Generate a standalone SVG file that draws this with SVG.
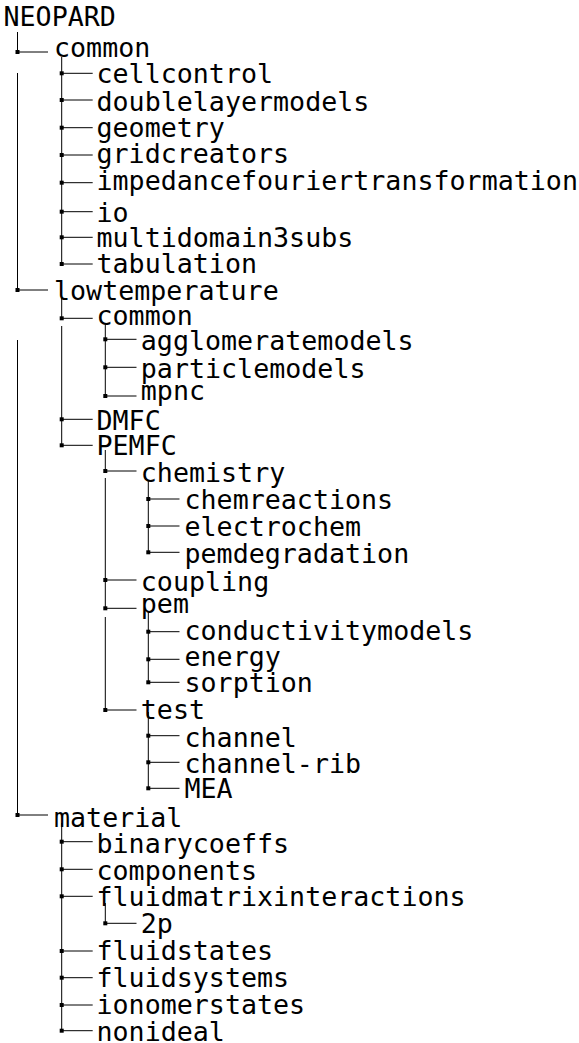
<svg xmlns="http://www.w3.org/2000/svg" width="579" height="1043" viewBox="0 0 579 1043">
  <style>
    text { font-family: "DejaVu Sans Mono", "Liberation Mono", monospace; font-size: 26.67px; fill: #000; }
    .c { stroke: #000; stroke-width: 1; fill: none; }
    .j { fill: #000; }
  </style>
  <defs>
    <rect id="sq" x="-2" y="-2" width="4" height="4" class="j"/>
  </defs>
  <rect width="579" height="1043" fill="#fff"/>

  <!-- tree connectors: trunks, branches and junction squares -->
  <g id="connectors">
    <!-- level 1 trunk (NEOPARD) -->
    <path class="c" d="M17.5 32V52 M17.5 73V290 M17.5 340V815"/>
    <!-- level 2 trunks -->
    <path class="c" d="M61.7 57V264 M61.7 297V318.3 M61.7 326V445.3 M61.7 823V1030.7"/>
    <!-- level 3 trunks -->
    <path class="c" d="M105.3 323V396 M105.3 450V471 M105.3 478V608.3 M105.3 617V710 M105.3 903V923.3"/>
    <!-- level 4 trunks -->
    <path class="c" d="M148.3 481V552.3 M148.3 613V682.3 M148.3 712V788.3"/>

    <!-- branches level 1 -->
    <path class="c" d="M17.5 52H48 M17.5 290H48 M17.5 815H48"/>
    <!-- branches level 2 -->
    <path class="c" d="M61.7 73.3H92.7 M61.7 100H92.7 M61.7 127.7H92.7 M61.7 155H92.7 M61.7 182.7H92.7 M61.7 211.7H92.7 M61.7 237.3H92.7 M61.7 264H92.7 M61.7 318.3H92.7 M61.7 419.3H92.7 M61.7 445.3H92.7 M61.7 841.7H92.7 M61.7 869.3H92.7 M61.7 896.3H92.7 M61.7 951H92.7 M61.7 977.7H92.7 M61.7 1005H92.7 M61.7 1030.7H92.7"/>
    <!-- branches level 3 -->
    <path class="c" d="M105.3 339.3H136.5 M105.3 367.3H136.5 M105.3 396H136.5 M105.3 471H136.5 M105.3 580H136.5 M105.3 608.3H136.5 M105.3 710H136.5 M105.3 923.3H136.5"/>
    <!-- branches level 4 -->
    <path class="c" d="M148.3 499H179.5 M148.3 526H179.5 M148.3 552.3H179.5 M148.3 631.7H179.5 M148.3 659.3H179.5 M148.3 682.3H179.5 M148.3 735.7H179.5 M148.3 762.3H179.5 M148.3 788.3H179.5"/>

    <!-- junction squares -->
    <use href="#sq" x="17.5" y="52"/>
    <use href="#sq" x="17.5" y="290"/>
    <use href="#sq" x="17.5" y="815"/>

    <use href="#sq" x="61.7" y="73.3"/>
    <use href="#sq" x="61.7" y="100"/>
    <use href="#sq" x="61.7" y="127.7"/>
    <use href="#sq" x="61.7" y="155"/>
    <use href="#sq" x="61.7" y="182.7"/>
    <use href="#sq" x="61.7" y="211.7"/>
    <use href="#sq" x="61.7" y="237.3"/>
    <use href="#sq" x="61.7" y="264"/>
    <use href="#sq" x="61.7" y="318.3"/>
    <use href="#sq" x="61.7" y="419.3"/>
    <use href="#sq" x="61.7" y="445.3"/>
    <use href="#sq" x="61.7" y="841.7"/>
    <use href="#sq" x="61.7" y="869.3"/>
    <use href="#sq" x="61.7" y="896.3"/>
    <use href="#sq" x="61.7" y="951"/>
    <use href="#sq" x="61.7" y="977.7"/>
    <use href="#sq" x="61.7" y="1005"/>
    <use href="#sq" x="61.7" y="1030.7"/>

    <use href="#sq" x="105.3" y="339.3"/>
    <use href="#sq" x="105.3" y="367.3"/>
    <use href="#sq" x="105.3" y="396"/>
    <use href="#sq" x="105.3" y="471"/>
    <use href="#sq" x="105.3" y="580"/>
    <use href="#sq" x="105.3" y="608.3"/>
    <use href="#sq" x="105.3" y="710"/>
    <use href="#sq" x="105.3" y="923.3"/>

    <use href="#sq" x="148.3" y="499"/>
    <use href="#sq" x="148.3" y="526"/>
    <use href="#sq" x="148.3" y="552.3"/>
    <use href="#sq" x="148.3" y="631.7"/>
    <use href="#sq" x="148.3" y="659.3"/>
    <use href="#sq" x="148.3" y="682.3"/>
    <use href="#sq" x="148.3" y="735.7"/>
    <use href="#sq" x="148.3" y="762.3"/>
    <use href="#sq" x="148.3" y="788.3"/>
  </g>

  <!-- nodes -->
  <g id="node-neopard"><text x="3.5" y="26">NEOPARD</text></g>

  <g id="node-common"><text x="54" y="57">common</text></g>
  <g id="node-cellcontrol"><text x="96.5" y="83.3">cellcontrol</text></g>
  <g id="node-doublelayermodels"><text x="96.5" y="111">doublelayermodels</text></g>
  <g id="node-geometry"><text x="96.5" y="136.7">geometry</text></g>
  <g id="node-gridcreators"><text x="96.5" y="163.3">gridcreators</text></g>
  <g id="node-impedancefouriertransformation"><text x="96.5" y="190">impedancefouriertransformation</text></g>
  <g id="node-io"><text x="96.5" y="222">io</text></g>
  <g id="node-multidomain3subs"><text x="96.5" y="247.3">multidomain3subs</text></g>
  <g id="node-tabulation"><text x="96.5" y="273.3">tabulation</text></g>

  <g id="node-lowtemperature"><text x="54" y="300">lowtemperature</text></g>
  <g id="node-lt-common"><text x="96.5" y="325">common</text></g>
  <g id="node-agglomeratemodels"><text x="140.8" y="350">agglomeratemodels</text></g>
  <g id="node-particlemodels"><text x="140.8" y="378">particlemodels</text></g>
  <g id="node-mpnc"><text x="140.8" y="400">mpnc</text></g>
  <g id="node-dmfc"><text x="96.5" y="430">DMFC</text></g>
  <g id="node-pemfc"><text x="96.5" y="455">PEMFC</text></g>
  <g id="node-chemistry"><text x="140.8" y="481.5">chemistry</text></g>
  <g id="node-chemreactions"><text x="184.5" y="509">chemreactions</text></g>
  <g id="node-electrochem"><text x="184.5" y="536">electrochem</text></g>
  <g id="node-pemdegradation"><text x="184.5" y="563">pemdegradation</text></g>
  <g id="node-coupling"><text x="140.8" y="590.5">coupling</text></g>
  <g id="node-pem"><text x="140.8" y="613">pem</text></g>
  <g id="node-conductivitymodels"><text x="184.5" y="640">conductivitymodels</text></g>
  <g id="node-energy"><text x="184.5" y="665.5">energy</text></g>
  <g id="node-sorption"><text x="184.5" y="692">sorption</text></g>
  <g id="node-test"><text x="140.8" y="718.5">test</text></g>
  <g id="node-channel"><text x="184.5" y="746.5">channel</text></g>
  <g id="node-channel-rib"><text x="184.5" y="773">channel-rib</text></g>
  <g id="node-mea"><text x="184.5" y="797.5">MEA</text></g>

  <g id="node-material"><text x="54" y="826.5">material</text></g>
  <g id="node-binarycoeffs"><text x="96.5" y="853">binarycoeffs</text></g>
  <g id="node-components"><text x="96.5" y="880">components</text></g>
  <g id="node-fluidmatrixinteractions"><text x="96.5" y="905.5">fluidmatrixinteractions</text></g>
  <g id="node-2p"><text x="140.8" y="933">2p</text></g>
  <g id="node-fluidstates"><text x="96.5" y="960">fluidstates</text></g>
  <g id="node-fluidsystems"><text x="96.5" y="987">fluidsystems</text></g>
  <g id="node-ionomerstates"><text x="96.5" y="1014">ionomerstates</text></g>
  <g id="node-nonideal"><text x="96.5" y="1040.5">nonideal</text></g>
</svg>
